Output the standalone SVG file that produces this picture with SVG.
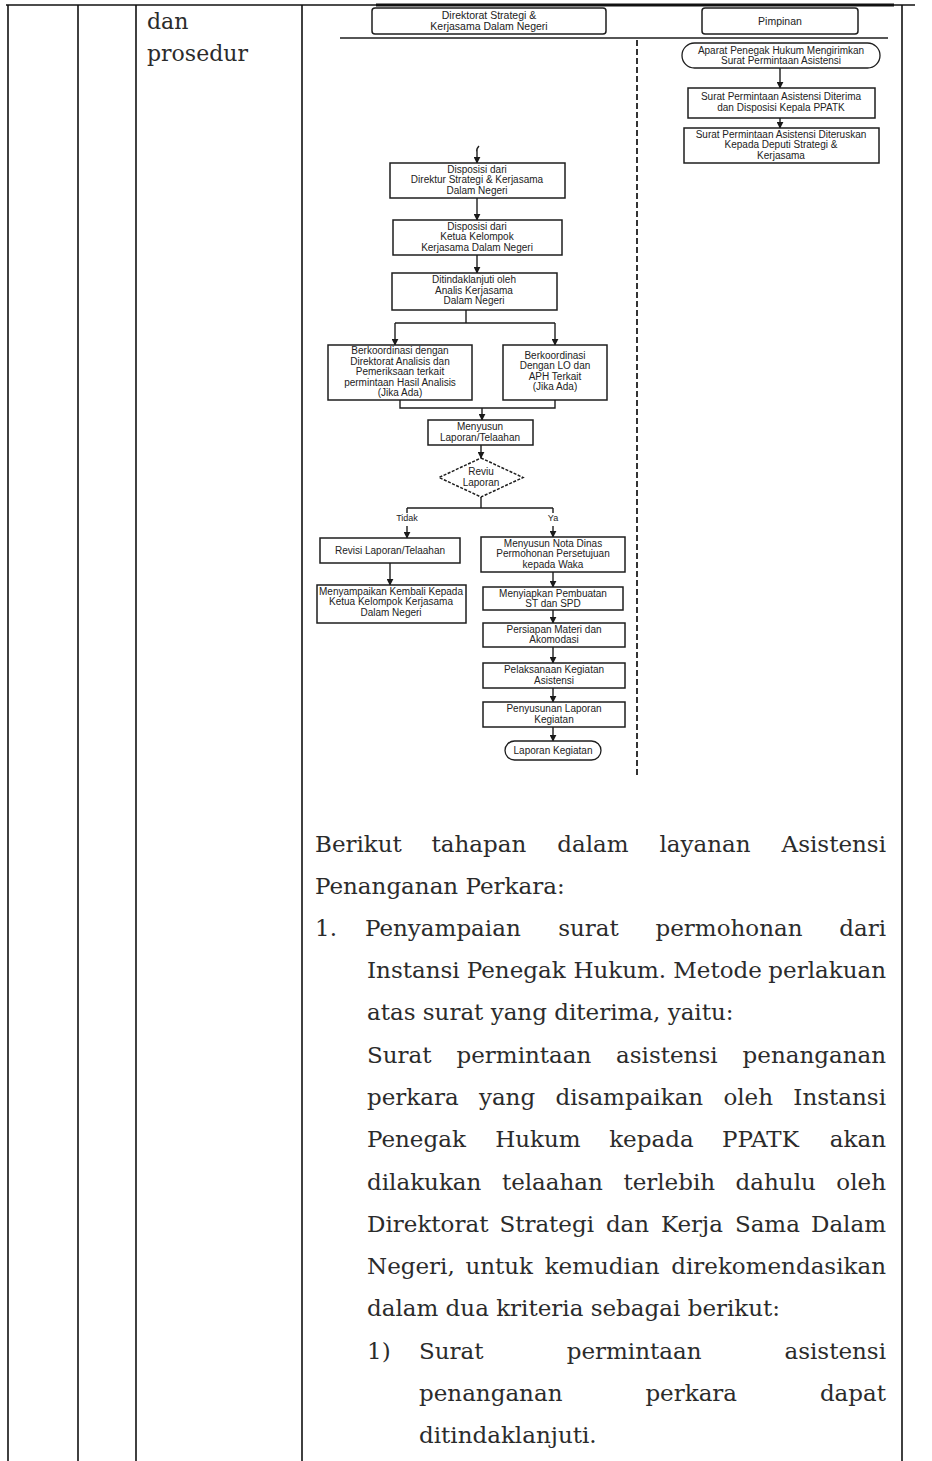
<svg xmlns="http://www.w3.org/2000/svg" width="932" height="1461" viewBox="0 0 932 1461">
  <defs>
    <marker id="arrow" viewBox="0 0 10 10" refX="9" refY="5" markerWidth="5" markerHeight="5" orient="auto-start-reverse">
      <path d="M0,0 L10,5 L0,10 z" fill="#1a1a1a"/>
    </marker>
    <style>
      .grid { stroke: #111; stroke-width: 1.6; fill: none; }
      .box { fill: #fff; stroke: #1e1e1e; stroke-width: 1.5; }
      .term { fill: #fff; stroke: #1e1e1e; stroke-width: 1.3; }
      .lane { stroke: #1e1e1e; stroke-width: 1.7; fill: none; }
      .divider { stroke: #1e1e1e; stroke-width: 1.8; stroke-dasharray: 6 3; fill: none; }
      .edge { stroke: #1e1e1e; stroke-width: 1.4; fill: none; }
      .arr { stroke: #1e1e1e; stroke-width: 1.4; fill: none; marker-end: url(#arrow); }
      .fc { font-family: "Liberation Sans", Arial, sans-serif; font-size: 10px; fill: #222; text-anchor: middle; }
      .hd { font-size: 10.5px; }
      .lbl { font-size: 9px; }
      .body { font-family: "DejaVu Serif", "Liberation Serif", serif; font-size: 23px; fill: #2b2b2b; }
      .cell { font-family: "DejaVu Serif", "Liberation Serif", serif; font-size: 22px; fill: #2b2b2b; }
      .end { text-anchor: end; }
    </style>
  </defs>
  <rect width="932" height="1461" fill="#fff"/>

  <!-- table frame -->
  <g id="table">
    <line class="grid" x1="6" y1="5" x2="915" y2="5"/>
    <line class="grid" x1="8" y1="5" x2="8" y2="1461"/>
    <line class="grid" x1="78" y1="5" x2="78" y2="1461"/>
    <line class="grid" x1="136" y1="5" x2="136" y2="1461"/>
    <line class="grid" x1="302" y1="5" x2="302" y2="1461"/>
    <line class="grid" x1="902" y1="5" x2="902" y2="1461"/>
    <line x1="376" y1="5" x2="894" y2="5" stroke="#111" stroke-width="3"/>
  </g>

  <g id="cell-label" class="cell">
    <text x="147" y="29">dan</text>
    <text x="147" y="61">prosedur</text>
  </g>

  <!-- swimlane headers -->
  <g id="lane-dsk">
    <rect class="box" x="372" y="8" width="234" height="26" rx="3"/>
    <text class="fc hd" x="489" y="18.5">Direktorat Strategi &amp;</text>
    <text class="fc hd" x="489" y="29.5">Kerjasama Dalam Negeri</text>
  </g>
  <g id="lane-pimpinan">
    <rect class="box" x="702" y="8" width="156" height="26" rx="3"/>
    <text class="fc hd" x="780" y="24.5">Pimpinan</text>
  </g>
  <g id="lanes">
    <line class="lane" x1="340" y1="38" x2="888" y2="38"/>
    <line class="divider" x1="637" y1="40" x2="637" y2="776"/>
  </g>

  <!-- connectors -->
  <g id="connectors">
    <line class="arr" x1="780" y1="68" x2="780" y2="88"/>
    <line class="arr" x1="780" y1="118" x2="780" y2="128"/>

    <path class="arr" d="M479,146 q-3,3 -2,6 L477,163"/>
    <line class="arr" x1="477" y1="198" x2="477" y2="220"/>
    <line class="arr" x1="477" y1="255" x2="477" y2="273"/>

    <path class="edge" d="M466,310 V323 M395,323 H555"/>
    <line class="arr" x1="395" y1="323" x2="395" y2="345"/>
    <line class="arr" x1="555" y1="323" x2="555" y2="345"/>

    <path class="edge" d="M400,400 V408 H555 V400"/>
    <line class="arr" x1="482" y1="408" x2="482" y2="420"/>
    <line class="arr" x1="481" y1="445" x2="481" y2="458"/>

    <path class="edge" d="M481,497 V508 M407,508 H553 M407,508 V513 M553,508 V513"/>
    <line class="arr" x1="407" y1="526" x2="407" y2="538"/>
    <line class="arr" x1="553" y1="526" x2="553" y2="537"/>

    <line class="arr" x1="390" y1="563" x2="390" y2="585"/>

    <line class="arr" x1="553" y1="572" x2="553" y2="587"/>
    <line class="arr" x1="553" y1="610" x2="553" y2="623"/>
    <line class="arr" x1="553" y1="647" x2="553" y2="663"/>
    <line class="arr" x1="553" y1="688" x2="553" y2="702"/>
    <line class="arr" x1="553" y1="727" x2="553" y2="741"/>
  </g>

  <!-- Pimpinan lane -->
  <g id="n-start">
    <rect class="term" x="682" y="43" width="198" height="25" rx="12.5"/>
    <text class="fc" x="781" y="53.5">Aparat Penegak Hukum Mengirimkan</text>
    <text class="fc" x="781" y="64">Surat Permintaan Asistensi</text>
  </g>
  <g id="n-disposisi-kepala">
    <rect class="box" x="688" y="88" width="187" height="30"/>
    <text class="fc" x="781" y="100">Surat Permintaan Asistensi Diterima</text>
    <text class="fc" x="781" y="111">dan Disposisi Kepala PPATK</text>
  </g>
  <g id="n-disposisi-deputi">
    <rect class="box" x="684" y="128" width="195" height="35"/>
    <text class="fc" x="781" y="137.5">Surat Permintaan Asistensi Diteruskan</text>
    <text class="fc" x="781" y="148">Kepada Deputi Strategi &amp;</text>
    <text class="fc" x="781" y="158.5">Kerjasama</text>
  </g>

  <!-- Direktorat lane -->
  <g id="n-direktur">
    <rect class="box" x="390" y="163" width="175" height="35"/>
    <text class="fc" x="477" y="172.5">Disposisi dari</text>
    <text class="fc" x="477" y="183">Direktur Strategi &amp; Kerjasama</text>
    <text class="fc" x="477" y="193.5">Dalam Negeri</text>
  </g>
  <g id="n-ketua">
    <rect class="box" x="393" y="220" width="169" height="35"/>
    <text class="fc" x="477" y="229.5">Disposisi dari</text>
    <text class="fc" x="477" y="240">Ketua Kelompok</text>
    <text class="fc" x="477" y="250.5">Kerjasama Dalam Negeri</text>
  </g>
  <g id="n-analis">
    <rect class="box" x="392" y="273" width="165" height="37"/>
    <text class="fc" x="474" y="283">Ditindaklanjuti oleh</text>
    <text class="fc" x="474" y="293.5">Analis Kerjasama</text>
    <text class="fc" x="474" y="304">Dalam Negeri</text>
  </g>
  <g id="n-koord-dap">
    <rect class="box" x="328" y="345" width="144" height="55"/>
    <text class="fc" x="400" y="354">Berkoordinasi dengan</text>
    <text class="fc" x="400" y="364.5">Direktorat Analisis dan</text>
    <text class="fc" x="400" y="375">Pemeriksaan terkait</text>
    <text class="fc" x="400" y="385.5">permintaan Hasil Analisis</text>
    <text class="fc" x="400" y="396">(Jika Ada)</text>
  </g>
  <g id="n-koord-lo">
    <rect class="box" x="503" y="345" width="104" height="55"/>
    <text class="fc" x="555" y="358.5">Berkoordinasi</text>
    <text class="fc" x="555" y="369">Dengan LO dan</text>
    <text class="fc" x="555" y="379.5">APH Terkait</text>
    <text class="fc" x="555" y="390">(Jika Ada)</text>
  </g>
  <g id="n-menyusun">
    <rect class="box" x="428" y="420" width="105" height="25"/>
    <text class="fc" x="480" y="430">Menyusun</text>
    <text class="fc" x="480" y="440.5">Laporan/Telaahan</text>
  </g>
  <g id="n-reviu">
    <path class="box" d="M481,458 L523,477.5 L481,497 L439,477.5 Z" stroke-dasharray="3 1.5"/>
    <text class="fc" x="481" y="475">Reviu</text>
    <text class="fc" x="481" y="485.5">Laporan</text>
  </g>
  <g id="branch-labels">
    <text class="fc lbl" x="407" y="521">Tidak</text>
    <text class="fc lbl" x="553" y="521">Ya</text>
  </g>
  <g id="n-revisi">
    <rect class="box" x="320" y="538" width="140" height="25"/>
    <text class="fc" x="390" y="554">Revisi Laporan/Telaahan</text>
  </g>
  <g id="n-kembali">
    <rect class="box" x="317" y="585" width="149" height="38"/>
    <text class="fc" x="391" y="594.5">Menyampaikan Kembali Kepada</text>
    <text class="fc" x="391" y="605">Ketua Kelompok Kerjasama</text>
    <text class="fc" x="391" y="615.5">Dalam Negeri</text>
  </g>
  <g id="n-nota-dinas">
    <rect class="box" x="481" y="537" width="144" height="35"/>
    <text class="fc" x="553" y="546.5">Menyusun Nota Dinas</text>
    <text class="fc" x="553" y="557">Permohonan Persetujuan</text>
    <text class="fc" x="553" y="567.5">kepada Waka</text>
  </g>
  <g id="n-st-spd">
    <rect class="box" x="483" y="587" width="140" height="23"/>
    <text class="fc" x="553" y="596.5">Menyiapkan Pembuatan</text>
    <text class="fc" x="553" y="606.5">ST dan SPD</text>
  </g>
  <g id="n-materi">
    <rect class="box" x="483" y="623" width="142" height="24"/>
    <text class="fc" x="554" y="633">Persiapan Materi dan</text>
    <text class="fc" x="554" y="643">Akomodasi</text>
  </g>
  <g id="n-pelaksanaan">
    <rect class="box" x="483" y="663" width="142" height="25"/>
    <text class="fc" x="554" y="673">Pelaksanaan Kegiatan</text>
    <text class="fc" x="554" y="683.5">Asistensi</text>
  </g>
  <g id="n-penyusunan">
    <rect class="box" x="483" y="702" width="142" height="25"/>
    <text class="fc" x="554" y="712">Penyusunan Laporan</text>
    <text class="fc" x="554" y="722.5">Kegiatan</text>
  </g>
  <g id="n-end">
    <rect class="term" x="505" y="741" width="96" height="19" rx="9.5"/>
    <text class="fc" x="553" y="754">Laporan Kegiatan</text>
  </g>

  <!-- procedure text, justified word by word -->
  <g id="procedure" class="body">
    <text y="852"><tspan x="315">Berikut</tspan><tspan x="431.6">tahapan</tspan><tspan x="557.3">dalam</tspan><tspan x="659.5">layanan</tspan></text>
    <text class="end" x="886" y="852">Asistensi</text>
    <text x="315" y="894">Penanganan Perkara:</text>

    <text y="936"><tspan x="315">1.</tspan><tspan x="365">Penyampaian</tspan><tspan x="558.2">surat</tspan><tspan x="655.5">permohonan</tspan></text>
    <text class="end" x="886" y="936">dari</text>

    <text y="978"><tspan x="367">Instansi</tspan><tspan x="466.8">Penegak</tspan><tspan x="573.4">Hukum.</tspan><tspan x="673.3">Metode</tspan></text>
    <text class="end" x="886" y="978">perlakuan</text>
    <text x="367" y="1020">atas surat yang diterima, yaitu:</text>

    <text y="1063"><tspan x="367">Surat</tspan><tspan x="456.5">permintaan</tspan><tspan x="616.1">asistensi</tspan></text>
    <text class="end" x="886" y="1063">penanganan</text>

    <text y="1105"><tspan x="367">perkara</tspan><tspan x="478.9">yang</tspan><tspan x="555.5">disampaikan</tspan><tspan x="723.4">oleh</tspan></text>
    <text class="end" x="886" y="1105">Instansi</text>

    <text y="1147"><tspan x="367">Penegak</tspan><tspan x="495.2">Hukum</tspan><tspan x="609.2">kepada</tspan><tspan x="722.1">PPATK</tspan></text>
    <text class="end" x="886" y="1147">akan</text>

    <text y="1190"><tspan x="367">dilakukan</tspan><tspan x="501.9">telaahan</tspan><tspan x="623.4">terlebih</tspan><tspan x="735.6">dahulu</tspan></text>
    <text class="end" x="886" y="1190">oleh</text>

    <text y="1232"><tspan x="367">Direktorat</tspan><tspan x="499.4">Strategi</tspan><tspan x="605.9">dan</tspan><tspan x="660.9">Kerja</tspan><tspan x="734.9">Sama</tspan></text>
    <text class="end" x="886" y="1232">Dalam</text>

    <text y="1274"><tspan x="367">Negeri,</tspan><tspan x="465.4">untuk</tspan><tspan x="544.7">kemudian</tspan></text>
    <text class="end" x="886" y="1274">direkomendasikan</text>
    <text x="367" y="1316">dalam dua kriteria sebagai berikut:</text>

    <text y="1359"><tspan x="367">1)</tspan><tspan x="419">Surat</tspan><tspan x="566.7">permintaan</tspan></text>
    <text class="end" x="886" y="1359">asistensi</text>

    <text y="1401"><tspan x="419">penanganan</tspan><tspan x="645.4">perkara</tspan></text>
    <text class="end" x="886" y="1401">dapat</text>
    <text x="419" y="1443">ditindaklanjuti.</text>
  </g>
</svg>
